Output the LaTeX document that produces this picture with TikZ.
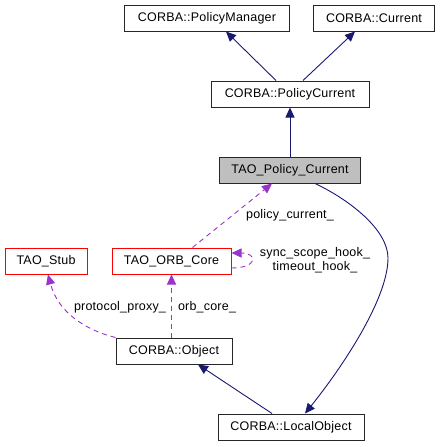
\documentclass[tikz,border=0pt]{standalone}
\usepackage{fontspec}
\setmainfont{Liberation Sans}[LetterSpace=1.7]
\usetikzlibrary{arrows.meta}
\definecolor{edgeblue}{HTML}{191970}
\definecolor{edgepurple}{HTML}{9A32CD}
\definecolor{boxgray}{HTML}{BFBFBF}

\begin{document}
\begin{tikzpicture}[x=1pt,y=-1pt,
		box/.style={draw=black!85, line width=1pt, minimum height=26pt, inner sep=0pt, font=\fontsize{12.5}{14}\selectfont},
		redbox/.style={box, draw=red},
		lbl/.style={inner sep=0pt, font=\fontsize{12.5}{14}\selectfont},
		inherit/.style={edgeblue, line width=0.9pt, -{Triangle[length=10pt,width=9pt]}},
		uses/.style={edgepurple, line width=0.9pt, dash pattern=on 5pt off 4pt, -{Triangle[length=10pt,width=9pt]}}]
			\useasboundingbox (0,0) rectangle (440,447);

			% classes
			\node[box, minimum width=165pt] (policymanager) at (207,18) {CORBA::PolicyManager};
			\node[box, minimum width=121pt] (current) at (374,18) {CORBA::Current};
			\node[box, minimum width=158pt] (policycurrent) at (290,94) {CORBA::PolicyCurrent};
			\node[box, minimum width=141pt, fill=boxgray] (taopolicy) at (290,170) {TAO\_Policy\_Current};
			\node[redbox, minimum width=82pt] (taostub) at (46,261) {TAO\_Stub};
			\node[redbox, minimum width=119pt] (orbcore) at (171.5,261) {TAO\_ORB\_Core};
			\node[box, minimum width=116pt] (object) at (174,351) {CORBA::Object};
			\node[box, minimum width=146pt] (localobject) at (291,427) {CORBA::LocalObject};

			% inheritance
			\draw [inherit] ([xshift=-14pt]policycurrent.north) -- ([xshift=19pt]policymanager.south) ;
			\draw [inherit] ([xshift=13pt]policycurrent.north) -- ([xshift=-19pt]current.south) ;
			\draw [inherit] (taopolicy) -- (policycurrent) ;
			\draw [inherit] ([xshift=-19pt]localobject.north) -- ([xshift=24pt]object.south) ;
			\draw [inherit] ([xshift=25pt]taopolicy.south) .. controls (350,200) and (388,230) .. (388,258)
				.. controls (388,300) and (340,370) .. ([xshift=14pt]localobject.north) ;

			% members
			\draw [uses] ([xshift=21pt]orbcore.north) -- ([xshift=-18pt]taopolicy.south) ;
			\draw [uses] ([yshift=-7pt]orbcore.east) .. controls (258,268) and (258,253) .. ([yshift=8pt]orbcore.east) ;
			\draw [uses] (object.north west) .. controls (85,330) and (58,312) .. ([xshift=2pt]taostub.south) ;
			\draw [uses] (orbcore.south |- object.north) -- (orbcore.south) ;

			% member labels
			\node[lbl] (lpolicy) at (290,215) {policy\_current\_} ;
			\node[lbl, align=center] (lhooks) at (315,260.5) {sync\_scope\_hook\_\\timeout\_hook\_} ;
			\node[lbl] (lproxy) at (120,307) {protocol\_proxy\_} ;
			\node[lbl] (lorb) at (207,307) {orb\_core\_} ;
		\end{tikzpicture}
\end{document}
